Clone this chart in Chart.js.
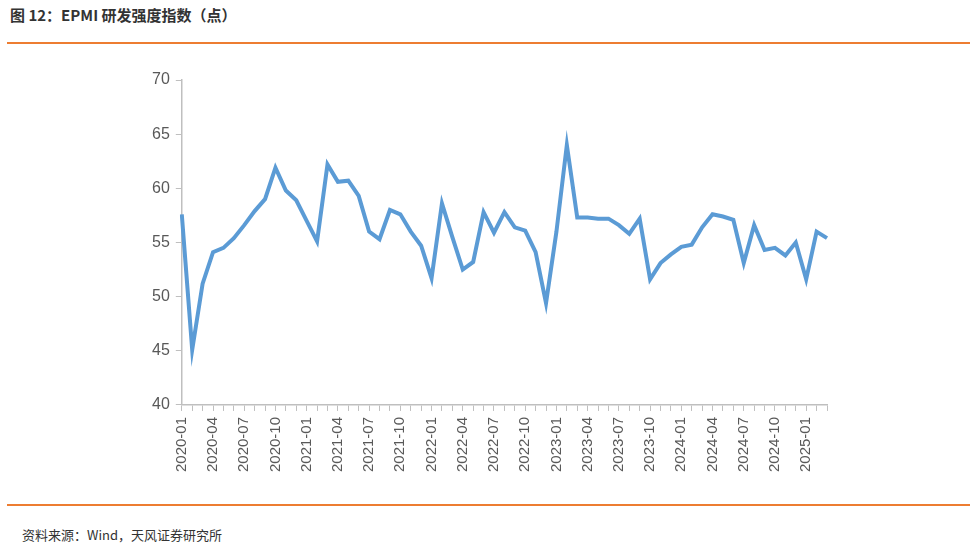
<!DOCTYPE html>
<html>
<head>
<meta charset="utf-8">
<script src="https://cdn.jsdelivr.net/npm/chart.js@4"></script>
<style>
  body { margin: 0; background: #fff; font-family: "Noto Sans CJK SC", sans-serif; }
  #wrap { position: relative; width: 977px; height: 547px; }
  .title { position: absolute; left: 10px; top: 4px; font-size: 15px; font-weight: bold; color: #333; }
  .rule { position: absolute; left: 7px; width: 963px; height: 2px; background: #ED7D31; }
  .source { position: absolute; left: 22px; top: 525px; font-size: 13px; color: #333; }
  #box { position: absolute; left: 0; top: 50px; width: 977px; height: 440px; }
</style>
</head>
<body>
<div id="wrap">
  <div class="title">图 12：EPMI 研发强度指数（点）</div>
  <div class="rule" style="top:42px"></div>
  <div id="box"><canvas id="chart"></canvas></div>
  <div class="rule" style="top:504px"></div>
  <div class="source">资料来源：Wind，天风证券研究所</div>
</div>
<script>
// months 2020-01 .. 2025-03
const months = [];
for (let y = 2020; y <= 2025; y++) {
    for (let m = 1; m <= 12; m++) {
        if (y === 2025 && m > 3) break;
        months.push(y + '-' + String(m).padStart(2, '0'));
    }
}

// EPMI R&D intensity index
const rdIndex = [
    57.6, 45.1, 51.2, 54.1, 54.5, 55.4, 56.6, 57.9, 59.0, 61.9, 59.8, 58.9,
    57.0, 55.1, 62.2, 60.6, 60.7, 59.3, 56.0, 55.3, 58.0, 57.6, 56.0, 54.7,
    51.7, 58.6, 55.5, 52.5, 53.2, 57.8, 55.9, 57.8, 56.4, 56.1, 54.1, 49.4,
    56.0, 64.0, 57.3, 57.3, 57.2, 57.2, 56.6, 55.8, 57.2, 51.6, 53.1, 53.9,
    54.6, 54.8, 56.4, 57.6, 57.4, 57.1, 53.1, 56.6, 54.3, 54.5, 53.8, 55.0,
    51.6, 56.0, 55.4
];

const yTicks = [40, 45, 50, 55, 60, 65, 70];

document.addEventListener('DOMContentLoaded', function() {
    const ctx = document.getElementById('chart').getContext('2d');
    new Chart(ctx, {
        type: 'line',
        data: {
            labels: months,
            datasets: [{
                data: rdIndex,
                borderColor: '#5B9BD5',
                borderWidth: 4,
                pointRadius: 0,
                tension: 0
            }]
        },
        options: {
            responsive: true,
            maintainAspectRatio: false,
            animation: false,
            layout: { padding: { top: 30, left: 146, right: 150, bottom: 12 } },
            plugins: { legend: { display: false }, tooltip: { enabled: false } },
            scales: {
                y: {
                    min: yTicks[0],
                    max: yTicks[yTicks.length - 1],
                    afterBuildTicks: function(axis) {
                        axis.ticks = yTicks.map(function(v) { return { value: v }; });
                    },
                    grid: { drawOnChartArea: false, color: '#BFBFBF', tickLength: 6 },
                    border: { color: '#BFBFBF', width: 1.5 },
                    ticks: { color: '#595959', font: { size: 16, family: 'Liberation Sans' }, padding: 6 }
                },
                x: {
                    offset: false,
                    grid: { drawOnChartArea: false, color: '#BFBFBF', tickLength: 6 },
                    border: { color: '#BFBFBF', width: 1.5 },
                    ticks: {
                        color: '#595959',
                        font: { size: 15, family: 'Liberation Sans' },
                        maxRotation: 90,
                        minRotation: 90,
                        autoSkip: false,
                        padding: 6,
                        callback: function(v, i) { return i % 3 === 0 ? months[i] : ''; }
                    }
                }
            }
        }
    });
});
</script>
</body>
</html>
